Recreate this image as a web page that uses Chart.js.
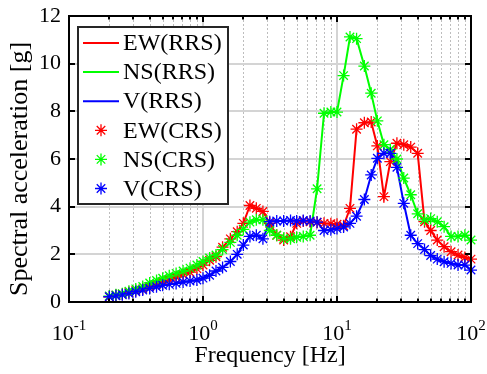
<!DOCTYPE html>
<html>
<head>
<meta charset="utf-8">
<script src="https://cdn.jsdelivr.net/npm/chart.js@4.4.1/dist/chart.umd.min.js"></script>
<style>
  html, body { margin: 0; padding: 0; background: #fff; }
  #wrap { width: 487px; height: 374px; }
</style>
</head>
<body>
<div id="wrap"><canvas id="rsChart" width="487" height="374"></canvas></div>
<script>
// Response spectra (stars = CRS sit on the RRS lines)
const freqs = [0.2, 0.224, 0.25, 0.28, 0.315, 0.355, 0.4, 0.45, 0.5, 0.56,
  0.63, 0.71, 0.8, 0.9, 1.0, 1.12, 1.25, 1.4, 1.6, 1.8,
  2.0, 2.24, 2.5, 2.8, 3.15, 3.55, 4.0, 4.5, 5.0, 5.6,
  6.3, 7.1, 8.0, 9.0, 10, 11.2, 12.5, 14, 16, 18,
  20, 22.4, 25, 28, 31.5, 35.5, 40, 45, 50, 56,
  63, 71, 80, 90, 100];

const ew = [0.22, 0.28, 0.33, 0.4, 0.48, 0.55, 0.65, 0.75, 0.85, 0.92,
  1.05, 1.15, 1.25, 1.4, 1.55, 1.75, 1.9, 2.3, 2.65, 2.95,
  3.3, 4.05, 3.93, 3.8, 3.3, 2.8, 2.6, 2.74, 3.3, 3.4,
  3.37, 3.35, 3.3, 3.28, 3.26, 3.2, 3.93, 7.25, 7.52, 7.55,
  6.55, 4.42, 5.89, 6.66, 6.6, 6.5, 6.24, 3.37, 3.0, 2.6,
  2.32, 2.11, 1.97, 1.87, 1.8];

const ns = [0.25, 0.3, 0.35, 0.45, 0.55, 0.65, 0.8, 0.9, 1.0, 1.1,
  1.2, 1.3, 1.42, 1.55, 1.7, 1.85, 1.97, 2.2, 2.5, 2.8,
  3.05, 3.35, 3.45, 3.45, 3.0, 2.8, 2.67, 2.65, 2.72, 2.75,
  2.8, 4.75, 7.92, 7.97, 7.97, 9.5, 11.12, 11.05, 9.9, 8.76,
  7.6, 6.6, 6.4, 6.0, 5.2, 4.5, 3.7, 3.45, 3.5, 3.37,
  3.16, 2.75, 2.75, 2.8, 2.6];

const vert = [0.22, 0.26, 0.3, 0.36, 0.43, 0.5, 0.57, 0.64, 0.7, 0.74,
  0.78, 0.84, 0.88, 0.92, 1.0, 1.12, 1.3, 1.45, 1.7, 2.0,
  2.39, 2.75, 2.8, 2.65, 3.37, 3.4, 3.4, 3.42, 3.4, 3.42,
  3.4, 3.35, 3.0, 3.03, 3.08, 3.15, 3.3, 3.6, 4.3, 5.33,
  6.03, 6.24, 6.24, 5.65, 4.14, 2.8, 2.45, 2.2, 1.95, 1.8,
  1.69, 1.62, 1.55, 1.55, 1.34];

const decades = [-1, 0, 1, 2];
const yTicks = [0, 2, 4, 6, 8, 10, 12];
const legendLabels = ['EW(RRS)', 'NS(RRS)', 'V(RRS)', 'EW(CRS)', 'NS(CRS)', 'V(CRS)'];
const yTitle = 'Spectral acceleration [g]';

const serif = "'Liberation Serif', 'Times New Roman', serif";
const colors = ['#ff0000', '#00ff00', '#0000ff'];

function pts(vals) {
  return freqs.map((f, i) => ({ x: f, y: vals[i] }));
}

function starAt(ctx, x, y, r, color) {
  ctx.save();
  ctx.strokeStyle = color;
  ctx.lineWidth = 1.3;
  ctx.beginPath();
  for (let k = 0; k < 4; k++) {
    const a = k * Math.PI / 4;
    ctx.moveTo(x - r * Math.cos(a), y - r * Math.sin(a));
    ctx.lineTo(x + r * Math.cos(a), y + r * Math.sin(a));
  }
  ctx.stroke();
  ctx.restore();
}

// grid under the data, box + inward ticks on top
const frame = {
  id: 'frame',
  beforeDatasetsDraw(chart) {
    const { ctx, chartArea: a, scales: { x, y } } = chart;
    ctx.save();
    ctx.strokeStyle = '#bdbdbd';
    ctx.lineWidth = 1;
    ctx.setLineDash([2, 2]);
    for (let d = -1; d < 2; d++) {
      for (let m = 2; m <= 9; m++) {
        const px = Math.round(x.getPixelForValue(m * Math.pow(10, d))) + 0.5;
        ctx.beginPath();
        ctx.moveTo(px, a.top);
        ctx.lineTo(px, a.bottom);
        ctx.stroke();
      }
    }
    ctx.setLineDash([]);
    ctx.strokeStyle = '#d4d4d4';
    ctx.lineWidth = 2;
    decades.forEach(d => {
      const px = Math.round(x.getPixelForValue(Math.pow(10, d)));
      ctx.beginPath();
      ctx.moveTo(px, a.top);
      ctx.lineTo(px, a.bottom);
      ctx.stroke();
    });
    yTicks.forEach(v => {
      const py = Math.round(y.getPixelForValue(v));
      ctx.beginPath();
      ctx.moveTo(a.left, py);
      ctx.lineTo(a.right, py);
      ctx.stroke();
    });
    ctx.restore();
  },
  afterDatasetsDraw(chart) {
    const { ctx, chartArea: a, scales: { x, y } } = chart;
    ctx.save();
    ctx.strokeStyle = '#000';
    ctx.lineWidth = 2;
    ctx.strokeRect(a.left, a.top, a.right - a.left, a.bottom - a.top);
    ctx.beginPath();
    for (let d = -1; d < 2; d++) {
      for (let m = 1; m <= 9; m++) {
        const px = Math.round(x.getPixelForValue(m * Math.pow(10, d)));
        const len = m === 1 ? 6 : 3.5;
        ctx.moveTo(px, a.bottom);
        ctx.lineTo(px, a.bottom - len);
        ctx.moveTo(px, a.top);
        ctx.lineTo(px, a.top + len);
      }
    }
    yTicks.forEach(v => {
      const py = Math.round(y.getPixelForValue(v));
      ctx.moveTo(a.left, py);
      ctx.lineTo(a.left + 6, py);
      ctx.moveTo(a.right, py);
      ctx.lineTo(a.right - 6, py);
    });
    ctx.stroke();

    // x tick labels as 10 with a raised exponent
    ctx.fillStyle = '#000';
    ctx.textBaseline = 'alphabetic';
    ctx.textAlign = 'left';
    decades.forEach(d => {
      const px = x.getPixelForValue(Math.pow(10, d));
      ctx.font = '22px ' + serif;
      const wBase = ctx.measureText('10').width;
      ctx.font = '15px ' + serif;
      const wExp = ctx.measureText(String(d)).width;
      const x0 = px - (wBase + wExp) / 2;
      ctx.font = '22px ' + serif;
      ctx.fillText('10', x0, 340);
      ctx.font = '15px ' + serif;
      ctx.fillText(String(d), x0 + wBase, 330);
    });

    // y axis title
    ctx.translate(20, 169);
    ctx.rotate(-Math.PI / 2);
    ctx.font = '26px ' + serif;
    ctx.textAlign = 'center';
    ctx.textBaseline = 'middle';
    ctx.fillText(yTitle, 0, 0);
    ctx.restore();
  },
  afterDraw(chart) {
    const { ctx } = chart;
    ctx.save();
    ctx.fillStyle = '#fff';
    ctx.fillRect(78, 27, 150, 177);
    ctx.strokeStyle = '#262626';
    ctx.lineWidth = 2;
    ctx.strokeRect(78, 27, 150, 177);
    ctx.font = '24px ' + serif;
    ctx.textBaseline = 'middle';
    ctx.textAlign = 'left';
    legendLabels.forEach((label, i) => {
      const ry = 43 + i * 29.1;
      const c = colors[i % 3];
      if (i < 3) {
        ctx.strokeStyle = c;
        ctx.lineWidth = 2;
        ctx.beginPath();
        ctx.moveTo(83, ry);
        ctx.lineTo(119, ry);
        ctx.stroke();
      } else {
        starAt(ctx, 101, ry, 6, c);
      }
      ctx.fillStyle = '#000';
      ctx.fillText(label, 123, ry + 1);
    });
    ctx.restore();
  }
};

const lineSet = (vals, c, order) => ({
  data: pts(vals), borderColor: c, borderWidth: 2, pointRadius: 0,
  tension: 0, fill: false, order: order, clip: false
});
const starSet = (vals, c, order) => ({
  data: pts(vals), showLine: false, pointStyle: 'star', pointRadius: 6,
  pointBorderColor: c, pointBackgroundColor: c, pointBorderWidth: 1.3,
  order: order, clip: false
});

new Chart(document.getElementById('rsChart'), {
  type: 'line',
  data: {
    datasets: [
      lineSet(ew, colors[0], 6),
      lineSet(ns, colors[1], 5),
      lineSet(vert, colors[2], 4),
      starSet(ew, colors[0], 3),
      starSet(ns, colors[1], 2),
      starSet(vert, colors[2], 1)
    ]
  },
  options: {
    responsive: false,
    animation: false,
    events: [],
    layout: { padding: { top: 16, right: 16, left: 0, bottom: 0 } },
    plugins: { legend: { display: false }, tooltip: { enabled: false } },
    scales: {
      x: {
        type: 'logarithmic',
        min: 0.1,
        max: 100,
        grid: { display: false, drawTicks: false },
        border: { display: false },
        ticks: { display: false },
        title: {
          display: true, text: 'Frequency [Hz]', color: '#000',
          font: { family: serif, size: 24 }, padding: { top: 0, bottom: 4 }
        },
        afterFit(scale) { scale.height = 72; }
      },
      y: {
        min: 0,
        max: 12,
        grid: { display: false, drawTicks: false },
        border: { display: false },
        ticks: {
          stepSize: 2, color: '#000', padding: 8,
          font: { family: serif, size: 22 }
        },
        title: { display: false },
        afterFit(scale) {
          scale.width = 69;
          scale.paddingTop = 0;
          scale.paddingBottom = 0;
        }
      }
    }
  },
  plugins: [frame]
});
</script>
</body>
</html>
